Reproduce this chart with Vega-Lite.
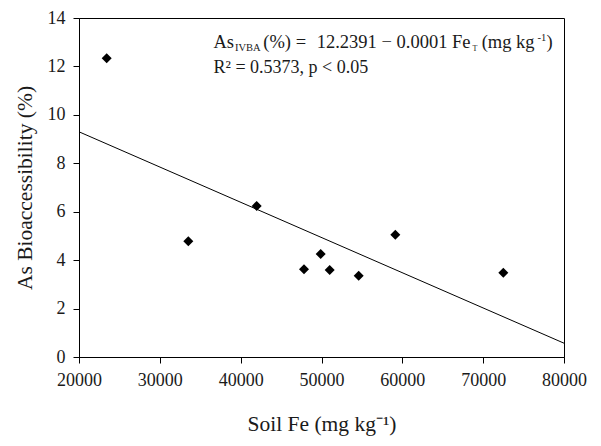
{
  "$schema": "https://vega.github.io/schema/vega-lite/v6.json",
  "width": 485,
  "height": 339,
  "autosize": {"type": "none"},
  "padding": {"left": 79, "top": 18, "right": 37, "bottom": 89},
  "background": "white",
  "config": {
    "font": "Liberation Serif",
    "view": {"stroke": "black", "strokeWidth": 1},
    "axis": {
      "grid": false,
      "domainColor": "black",
      "tickColor": "black",
      "tickSize": 6,
      "labelColor": "#1a1a1a",
      "titleColor": "#1a1a1a",
      "labelFont": "Liberation Serif",
      "titleFont": "Liberation Serif",
      "labelFontSize": 18,
      "titleFontSize": 21.5,
      "titleFontWeight": "normal",
      "labelPadding": 8,
      "labelFlush": false,
      "labelOverlap": false
    },
    "text": {"font": "Liberation Serif", "color": "#1a1a1a", "align": "left", "baseline": "alphabetic"}
  },
  "datasets": {
    "points": [
      {"fe": 23427, "as": 12.34},
      {"fe": 33522, "as": 4.78},
      {"fe": 41984, "as": 6.24},
      {"fe": 47835, "as": 3.62},
      {"fe": 49901, "as": 4.25},
      {"fe": 51014, "as": 3.59},
      {"fe": 54602, "as": 3.36},
      {"fe": 59130, "as": 5.05},
      {"fe": 72490, "as": 3.48}
    ],
    "fit": [
      {"fe": 20000, "as": 9.30},
      {"fe": 80000, "as": 0.57}
    ]
  },
  "layer": [
    {
      "data": {"name": "fit"},
      "mark": {"type": "line", "color": "black", "strokeWidth": 1, "clip": true},
      "encoding": {
        "x": {"field": "fe", "type": "quantitative",
              "scale": {"domain": [20000, 80000], "nice": false, "zero": false},
              "axis": {"title": "Soil Fe (mg kg⁻¹)", "values": [20000, 30000, 40000, 50000, 60000, 70000, 80000], "format": "d", "titlePadding": 24}},
        "y": {"field": "as", "type": "quantitative",
              "scale": {"domain": [0, 14], "nice": false},
              "axis": {"title": "As Bioaccessibility (%)", "values": [0, 2, 4, 6, 8, 10, 12, 14], "titlePadding": 11}}
      }
    },
    {
      "data": {"name": "points"},
      "mark": {"type": "point", "shape": "diamond", "filled": true, "color": "black", "opacity": 1, "size": 100},
      "encoding": {
        "x": {"field": "fe", "type": "quantitative"},
        "y": {"field": "as", "type": "quantitative"}
      }
    },
    {
      "data": {"values": [{}]},
      "layer": [
        {"mark": {"type": "text", "text": "As", "fontSize": 18.5},
         "encoding": {"x": {"datum": 36639, "type": "quantitative"}, "y": {"datum": 12.761, "type": "quantitative"}}},
        {"mark": {"type": "text", "text": "IVBA", "fontSize": 10.5},
         "encoding": {"x": {"datum": 39300, "type": "quantitative"}, "y": {"datum": 12.637, "type": "quantitative"}}},
        {"mark": {"type": "text", "text": "(%) =", "fontSize": 18.5},
         "encoding": {"x": {"datum": 42800, "type": "quantitative"}, "y": {"datum": 12.761, "type": "quantitative"}}},
        {"mark": {"type": "text", "text": "12.2391 − 0.0001 Fe", "fontSize": 18.5},
         "encoding": {"x": {"datum": 49406, "type": "quantitative"}, "y": {"datum": 12.761, "type": "quantitative"}}},
        {"mark": {"type": "text", "text": "T", "fontSize": 8},
         "encoding": {"x": {"datum": 68680, "type": "quantitative"}, "y": {"datum": 12.637, "type": "quantitative"}}},
        {"mark": {"type": "text", "text": "(mg kg", "fontSize": 18.5},
         "encoding": {"x": {"datum": 69818, "type": "quantitative"}, "y": {"datum": 12.761, "type": "quantitative"}}},
        {"mark": {"type": "text", "text": "-1", "fontSize": 10.5},
         "encoding": {"x": {"datum": 76722, "type": "quantitative"}, "y": {"datum": 13.05, "type": "quantitative"}}},
        {"mark": {"type": "text", "text": ")", "fontSize": 18.5},
         "encoding": {"x": {"datum": 77835, "type": "quantitative"}, "y": {"datum": 12.761, "type": "quantitative"}}},
        {"mark": {"type": "text", "text": "R² = 0.5373, p < 0.05", "fontSize": 18},
         "encoding": {"x": {"datum": 36639, "type": "quantitative"}, "y": {"datum": 11.729, "type": "quantitative"}}}
      ]
    }
  ]
}
